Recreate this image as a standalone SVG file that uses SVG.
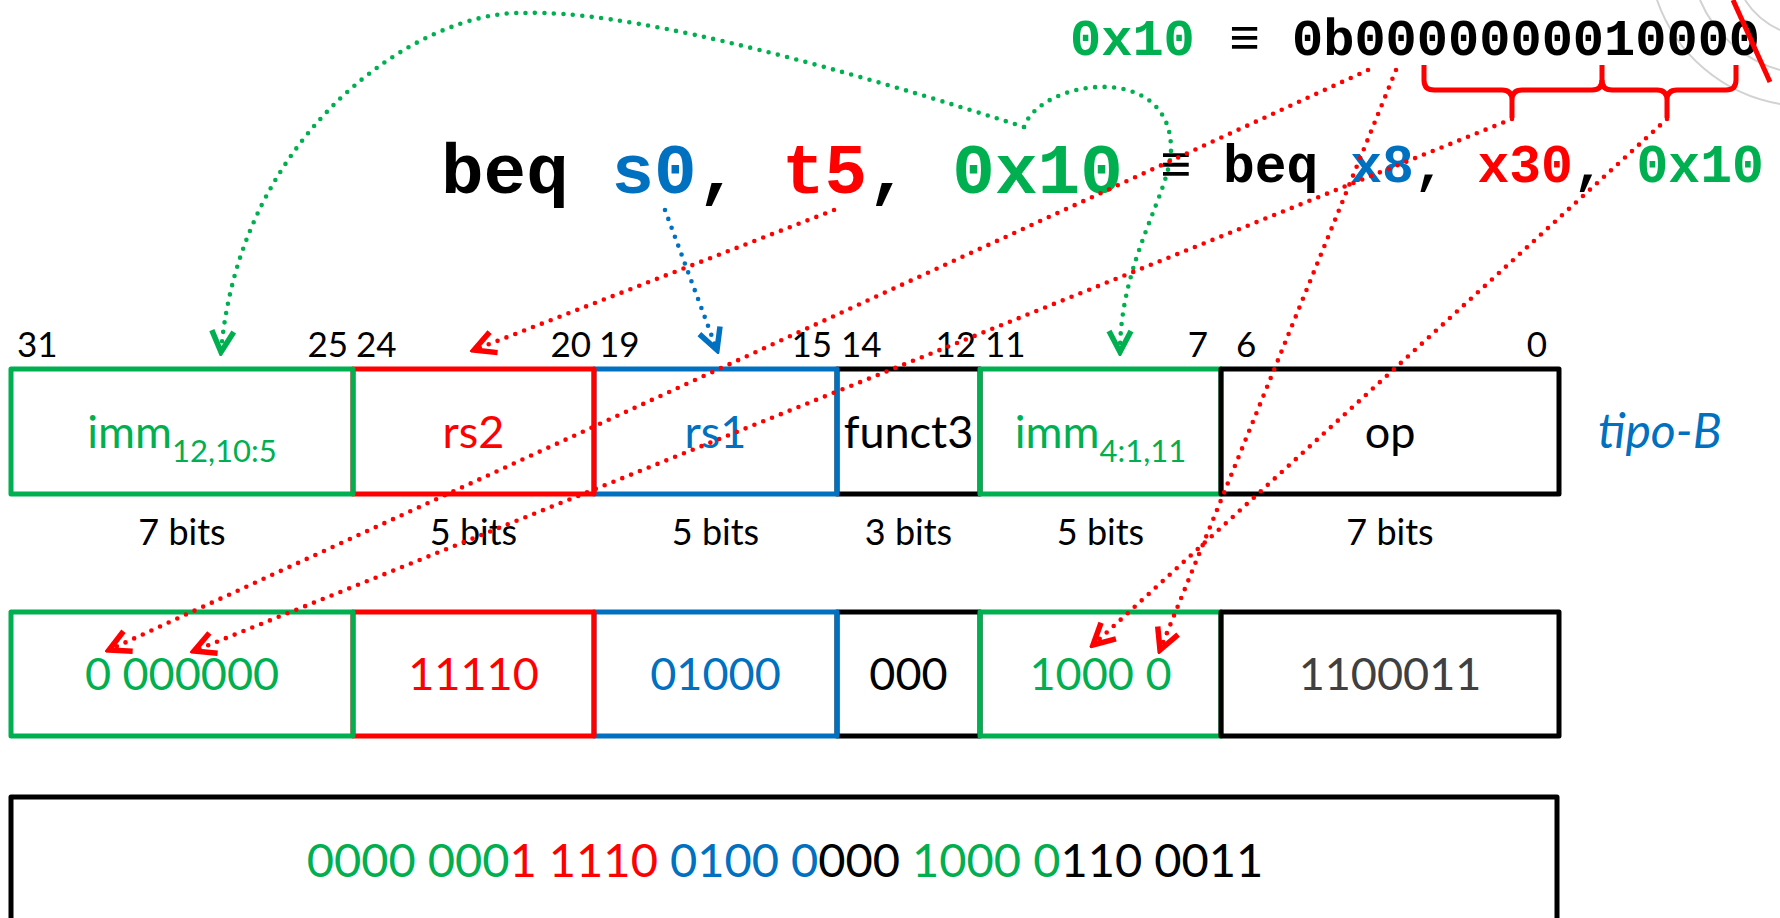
<svg xmlns="http://www.w3.org/2000/svg" width="1780" height="918" viewBox="0 0 1780 918">
  <defs>
    <style>
      .box { fill: none; stroke-width: 5; stroke-linejoin: round; }
      .sans { font-family: Lato, "Open Sans", "Liberation Sans", sans-serif; }
      .lbl { font-size: 45px; text-anchor: middle; }
      .sub { font-size: 31px; }
      .num { font-size: 35px; fill: #000; }
      .bits { font-size: 36px; text-anchor: middle; fill: #000; }
      .mono { font-family: "Liberation Mono", "Courier New", monospace; font-weight: bold; }
      .dot { fill: none; stroke-width: 4.6; stroke-dasharray: 0 9.5; stroke-linecap: round; }
      .grn { fill: #00B050; }
      .red { fill: #FF0000; }
      .blu { fill: #0070C0; }
      .blk { fill: #000000; }
      .gry { fill: #404040; }
    </style>
    <marker id="arrow-red" viewBox="-28 -16 32 32" markerWidth="32" markerHeight="32" refX="0" refY="0" markerUnits="userSpaceOnUse" orient="auto">
      <path d="M-21,-11 L0,0 L-21,11" fill="none" stroke="#FF0000" stroke-width="5.5"/>
    </marker>
    <marker id="arrow-green" viewBox="-28 -16 32 32" markerWidth="32" markerHeight="32" refX="0" refY="0" markerUnits="userSpaceOnUse" orient="auto">
      <path d="M-21,-11 L0,0 L-21,11" fill="none" stroke="#00B050" stroke-width="5.5"/>
    </marker>
    <marker id="arrow-blue" viewBox="-28 -16 32 32" markerWidth="32" markerHeight="32" refX="0" refY="0" markerUnits="userSpaceOnUse" orient="auto">
      <path d="M-21,-11 L0,0 L-21,11" fill="none" stroke="#0070C0" stroke-width="5.5"/>
    </marker>
  </defs>

  <rect x="0" y="0" width="1780" height="918" fill="#ffffff"/>

  <!-- faint seal in the corner -->
  <g id="seal" fill="none" stroke="#d2d2d2" stroke-width="2">
    <path d="M1657,0 A158,158 0 0 0 1780,104"/>
    <path d="M1700,0 A122,122 0 0 0 1780,70"/>
    <path d="M1745,0 A80,80 0 0 0 1780,30"/>
  </g>

  <!-- immediate written out in binary -->
  <g id="imm-binary">
    <text class="mono" y="55" font-size="52">
      <tspan x="1070" fill="#00B050">0x10</tspan>
      <tspan x="1229" fill="#000">≡</tspan>
      <tspan x="1292" fill="#000">0b0000000010000</tspan>
    </text>
    <path d="M1424,65 L1424,80 Q1424,90 1434,90 L1502,90 Q1512,90 1512,100 L1512,118 M1512,100 Q1512,90 1522,90 L1592,90 Q1602,90 1602,80 L1602,65" fill="none" stroke="#FF0000" stroke-width="5" stroke-linejoin="round"/>
    <path d="M1602,80 Q1602,90 1612,90 L1657,90 Q1667,90 1667,100 L1667,118 M1667,100 Q1667,90 1677,90 L1726,90 Q1736,90 1736,80 L1736,65" fill="none" stroke="#FF0000" stroke-width="5" stroke-linejoin="round"/>
    <line x1="1733" y1="0" x2="1770" y2="82" stroke="#FF0000" stroke-width="5"/>
  </g>

  <!-- assembly instruction -->
  <g id="instruction">
    <text class="mono" x="441" y="193" font-size="71"><tspan fill="#000">beq </tspan><tspan fill="#0070C0">s0</tspan><tspan fill="#000">, </tspan><tspan fill="#FF0000">t5</tspan><tspan fill="#000">, </tspan><tspan fill="#00B050">0x10</tspan></text>
    <text class="mono" x="1160" y="182" font-size="53" fill="#000">≡</text>
    <text class="mono" x="1223" y="182" font-size="53"><tspan fill="#000">beq </tspan><tspan fill="#0070C0">x8</tspan><tspan fill="#000">, </tspan><tspan fill="#FF0000">x30</tspan><tspan fill="#000">, </tspan><tspan fill="#00B050">0x10</tspan></text>
  </g>

  <!-- bit positions -->
  <g id="bit-numbers" class="sans num">
    <text x="17" y="357">31</text>
    <text x="348" y="357" text-anchor="end">25</text>
    <text x="356" y="357">24</text>
    <text x="591" y="357" text-anchor="end">20</text>
    <text x="599" y="357">19</text>
    <text x="832" y="357" text-anchor="end">15</text>
    <text x="841" y="357">14</text>
    <text x="976" y="357" text-anchor="end">12</text>
    <text x="985" y="357">11</text>
    <text x="1208" y="357" text-anchor="end">7</text>
    <text x="1236" y="357">6</text>
    <text x="1547" y="357" text-anchor="end">0</text>
  </g>

  <!-- B-type format fields -->
  <g id="field-funct3">
    <rect class="box" x="837" y="369" width="143" height="125" stroke="#000"/>
    <text class="sans lbl blk" x="908.5" y="448">funct3</text>
  </g>
  <g id="field-imm-low">
    <rect class="box" x="980" y="369" width="241" height="125" stroke="#00B050"/>
    <text class="sans lbl grn" x="1100.5" y="448">imm<tspan class="sub" dy="14">4:1,11</tspan></text>
  </g>
  <g id="field-op">
    <rect class="box" x="1221" y="369" width="338" height="125" stroke="#000"/>
    <text class="sans lbl blk" x="1390" y="448">op</text>
  </g>
  <g id="field-rs1">
    <rect class="box" x="594" y="369" width="243" height="125" stroke="#0070C0"/>
    <text class="sans lbl blu" x="715.5" y="448">rs1</text>
  </g>
  <g id="field-rs2">
    <rect class="box" x="353" y="369" width="241" height="125" stroke="#FF0000"/>
    <text class="sans lbl red" x="473.5" y="448">rs2</text>
  </g>
  <g id="field-imm-high">
    <rect class="box" x="11" y="369" width="342" height="125" stroke="#00B050"/>
    <text class="sans lbl grn" x="182" y="448">imm<tspan class="sub" dy="14">12,10:5</tspan></text>
  </g>
  <g id="format-name">
    <text class="sans" x="1598" y="448" font-size="48" font-style="italic" fill="#0070C0">tipo-B</text>
  </g>

  <!-- field widths -->
  <g id="field-widths" class="sans bits">
    <text x="182" y="545">7 bits</text>
    <text x="473.5" y="545">5 bits</text>
    <text x="715.5" y="545">5 bits</text>
    <text x="908.5" y="545">3 bits</text>
    <text x="1100.5" y="545">5 bits</text>
    <text x="1390" y="545">7 bits</text>
  </g>

  <!-- encoded field values -->
  <g id="value-funct3">
    <rect class="box" x="837" y="612" width="143" height="124" stroke="#000"/>
    <text class="sans lbl blk" x="908.5" y="690">000</text>
  </g>
  <g id="value-imm-low">
    <rect class="box" x="980" y="612" width="241" height="124" stroke="#00B050"/>
    <text class="sans lbl grn" x="1100.5" y="690">1000 0</text>
  </g>
  <g id="value-op">
    <rect class="box" x="1221" y="612" width="338" height="124" stroke="#000"/>
    <text class="sans lbl gry" x="1390" y="690">1100011</text>
  </g>
  <g id="value-rs1">
    <rect class="box" x="594" y="612" width="243" height="124" stroke="#0070C0"/>
    <text class="sans lbl blu" x="715.5" y="690">01000</text>
  </g>
  <g id="value-rs2">
    <rect class="box" x="353" y="612" width="241" height="124" stroke="#FF0000"/>
    <text class="sans lbl red" x="473.5" y="690">11110</text>
  </g>
  <g id="value-imm-high">
    <rect class="box" x="11" y="612" width="342" height="124" stroke="#00B050"/>
    <text class="sans lbl grn" x="182" y="690">0 000000</text>
  </g>

  <!-- full machine word -->
  <g id="machine-word">
    <rect class="box" x="11" y="797" width="1546" height="200" stroke="#000"/>
    <text class="sans" x="785" y="877" font-size="47" text-anchor="middle"><tspan class="grn">0000 000</tspan><tspan class="red">1 1110</tspan><tspan class="blu"> 0100 0</tspan><tspan class="blk">000 </tspan><tspan class="grn">1000 0</tspan><tspan class="blk">110 0011</tspan></text>
  </g>

  <!-- connectors -->
  <g id="connectors">
    <path class="dot" stroke="#00B050" marker-end="url(#arrow-green)" d="M1024,127 C800,55 620,10 524,13 C420,10 240,130 221,352"/>
    <path class="dot" stroke="#00B050" marker-end="url(#arrow-green)" d="M1024,127 C1040,80 1170,60 1171,148 C1172,190 1120,260 1120,352"/>
    <path class="dot" stroke="#0070C0" marker-end="url(#arrow-blue)" d="M665,210 L717,350"/>
    <path class="dot" stroke="#FF0000" marker-end="url(#arrow-red)" d="M834,210 L474,350"/>
    <path class="dot" stroke="#FF0000" marker-end="url(#arrow-red)" d="M1368,70 L109,650"/>
    <path class="dot" stroke="#FF0000" marker-end="url(#arrow-red)" d="M1512,119 L194,651"/>
    <path class="dot" stroke="#FF0000" marker-end="url(#arrow-red)" d="M1396,70 L1160,650"/>
    <path class="dot" stroke="#FF0000" marker-end="url(#arrow-red)" d="M1667,119 L1093,645"/>
  </g>
</svg>
